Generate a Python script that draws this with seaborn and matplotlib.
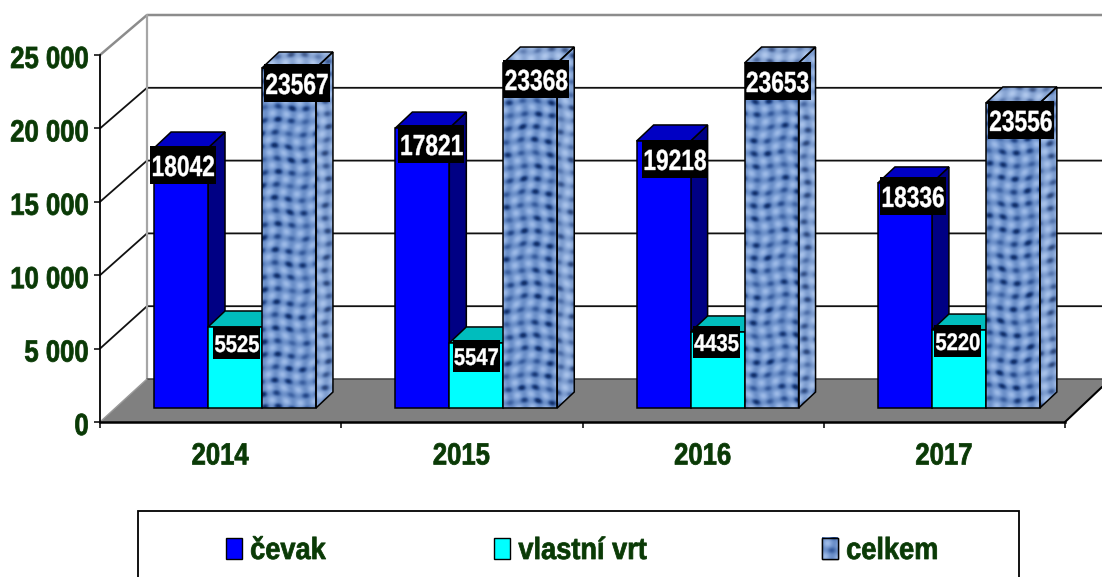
import numpy as np
import pandas as pd
import matplotlib
matplotlib.use('Agg')
import matplotlib.pyplot as plt
import seaborn as sns
from matplotlib.colors import LinearSegmentedColormap
from matplotlib.patches import Patch, Polygon, Rectangle
from matplotlib.patheffects import AbstractPathEffect
from matplotlib.transforms import Affine2D

# Data: bar heights as drawn, printed labels differ from them in the source chart
years = ['2014', '2015', '2016', '2017']
series_names = ['čevak', 'vlastní vrt', 'celkem']
cevak_bars = [17710, 19070, 18190, 15330]
vrt_bars = [5518, 4430, 5180, 5310]
celkem_bars = [23160, 23500, 23500, 20780]
cevak_labels = ['18042', '17821', '19218', '18336']
vrt_labels = ['5525', '5547', '4435', '5220']
celkem_labels = ['23567', '23368', '23653', '23556']
axis_values = [0, 5000, 10000, 15000, 20000, 25000]
axis_labels = ['0', '5 000', '10 000', '15 000', '20 000', '25 000']

# Layout in pixels of the 1102x577 picture
W, H = 1102, 577
PX_PER_UNIT = 73.4 / 5000
WALL_PX_PER_UNIT = 72.8 / 5000
PX_PER_CAT = 241.3
BAR_BASE = 408
GROUP0 = 235
FRONT_Y = 422
FRONT_LEFT, FRONT_RIGHT = 100, 1065
WALL_X, WALL_Y = 147, 379
DEPTH_X, DEPTH_Y = 17 / PX_PER_CAT, 16 / PX_PER_UNIT
GREEN = '#0a3a06'

label_shift = {
    'čevak': [(2, 17), (9, 16), (11, 18), (8, 13)],
    'vlastní vrt': [(2, 16), (0, 13), (-1, 10), (-1, 11)],
    'celkem': [(8, 15), (6, 16), (6, 18), (8, 17)],
}
label_box = {'čevak': (66, 38), 'vlastní vrt': (47, 32), 'celkem': (66, 38)}
label_size = {'čevak': 21, 'vlastní vrt': 17.3, 'celkem': 21}
label_squeeze = {'čevak': 0.78, 'vlastní vrt': 0.84, 'celkem': 0.78}


def xd(px):
    return (px - GROUP0) / PX_PER_CAT


def yd(px):
    return (BAR_BASE - px) / PX_PER_UNIT


# No narrow bold font is installed, so the glyphs get squeezed and thickened when drawn
class Squeeze(AbstractPathEffect):
    def __init__(self, sx, anchor='center', stroke=0.55):
        super().__init__()
        self.sx = sx
        self.anchor = anchor
        self.stroke = stroke

    def draw_path(self, renderer, gc, tpath, affine, rgbFace=None):
        ext = tpath.get_extents()
        ax0 = (ext.x0 + ext.x1) / 2 if self.anchor == 'center' else ext.x0
        pre = Affine2D().translate(-ax0, 0).scale(self.sx, 1).translate(ax0, 0)
        gc0 = renderer.new_gc()
        gc0.copy_properties(gc)
        gc0.set_linewidth(self.stroke)
        gc0.set_foreground(rgbFace)
        renderer.draw_path(gc0, tpath, pre + affine, rgbFace)
        gc0.restore()


weave_cmap = LinearSegmentedColormap.from_list(
    'weave', ['#12306a', '#34599b', '#6489c4', '#8eaee0', '#bcd3f5'])


# Woven look of the third series: rows of dark flecks on a mid blue
def weave(w, h, phase=0.0, lighten=0.0):
    yy, xx = np.mgrid[0:h, 0:w].astype(float)
    xx = xx + phase * 37
    yy = yy + phase * 53
    wx = xx + 2 * np.sin(yy / 9.3)
    wy = yy + 1.5 * np.sin(xx / 8.1)
    spots = ((1 + np.cos(2 * np.pi * wx / 14)) / 2) ** 1.2 * ((1 + np.cos(2 * np.pi * wy / 13)) / 2) ** 2
    amp = 0.7 + 0.3 * np.sin(xx / 9.7 + 1.7 * np.sin(yy / 8.3))
    light = ((1 + np.cos(2 * np.pi * (wx + 6) / 14)) / 2) * ((1 + np.cos(2 * np.pi * (wy + 6) / 13)) / 2)
    v = 0.55 - 0.62 * spots * amp + 0.28 * light
    rgb = weave_cmap(np.clip(v, 0, 1))[:, :, :3]
    return rgb + (1 - rgb) * lighten


sns.set_style('white')
plt.rcParams['font.family'] = ['Liberation Sans', 'DejaVu Sans']
plt.rcParams['font.weight'] = 'bold'

df = pd.DataFrame({
    'year': years * 3,
    'series': [n for n in series_names for _ in years],
    'value': cevak_bars + vrt_bars + celkem_bars,
})

fig = plt.figure(figsize=(W / 100, H / 100), dpi=100)
ax = fig.add_axes([FRONT_LEFT / W, (H - FRONT_Y) / H, (W - FRONT_LEFT) / W, FRONT_Y / H])
ax.patch.set_alpha(0)

sns.barplot(data=df, x='year', y='value', hue='series', hue_order=series_names,
            palette=['#0000ff', '#00ffff', '#7c9fd6'], width=0.671, gap=0,
            errorbar=None, legend=False, ax=ax, edgecolor='black', linewidth=1.1, saturation=1)
ax.set_xlabel('')
ax.set_ylabel('')
bars = list(ax.patches)

# Back wall, grid and floor
for v in axis_values[1:-1]:
    ax.plot([xd(FRONT_LEFT), xd(WALL_X), xd(W)],
            [yd(FRONT_Y - v * PX_PER_UNIT), yd(WALL_Y - v * WALL_PX_PER_UNIT), yd(WALL_Y - v * WALL_PX_PER_UNIT)],
            color='#111111', lw=1.3, zorder=1, clip_on=False)
top_px = WALL_Y - 25000 * WALL_PX_PER_UNIT
ax.plot([xd(FRONT_LEFT), xd(WALL_X), xd(W)],
        [yd(FRONT_Y - 25000 * PX_PER_UNIT), yd(top_px), yd(top_px)],
        color='#8c8c8c', lw=1.8, zorder=1, clip_on=False)
ax.plot([xd(WALL_X), xd(WALL_X)], [yd(WALL_Y), yd(top_px)], color='#a6a6a6', lw=1.6, zorder=1)

ax.add_patch(Polygon([(xd(FRONT_LEFT), yd(FRONT_Y)), (xd(WALL_X), yd(WALL_Y)), (xd(W), yd(WALL_Y)),
                      (xd(W), yd(387)), (xd(FRONT_RIGHT), yd(FRONT_Y))],
                     facecolor='#808080', edgecolor='none', zorder=1.5))
ax.plot([xd(WALL_X), xd(W)], [yd(WALL_Y), yd(WALL_Y)], color='#404040', lw=1.1, zorder=1.6)
ax.plot([xd(FRONT_LEFT), xd(WALL_X)], [yd(FRONT_Y), yd(WALL_Y)], color='#9a9a9a', lw=1.0, zorder=1.6)
ax.plot([xd(FRONT_RIGHT), xd(W)], [yd(FRONT_Y), yd(387)], color='black', lw=1.5, zorder=1.6)

# 3D faces on top of the bars seaborn drew
top_colors = ['#0000c4', '#00bdbd', None]
side_colors = ['#000084', '#008a8a', None]
n_years = len(years)
for s, name in enumerate(series_names):
    z = 3 + s
    for i in range(n_years):
        bar = bars[s * n_years + i]
        x0, w, h = bar.get_x(), bar.get_width(), bar.get_height()
        bar.set_zorder(z + 0.3)
        side = [(x0 + w, 0), (x0 + w + DEPTH_X, DEPTH_Y), (x0 + w + DEPTH_X, h + DEPTH_Y), (x0 + w, h)]
        top = [(x0, h), (x0 + DEPTH_X, h + DEPTH_Y), (x0 + w + DEPTH_X, h + DEPTH_Y), (x0 + w, h)]
        if name == 'celkem':
            ax.imshow(weave(54, int(h * PX_PER_UNIT), phase=i), extent=[x0, x0 + w, 0, h],
                      aspect='auto', zorder=z + 0.1, interpolation='bilinear')
            side_p = Polygon(side, facecolor='none', edgecolor='black', lw=1.1, zorder=z + 0.2)
            top_p = Polygon(top, facecolor='none', edgecolor='black', lw=1.1, zorder=z + 0.2)
            ax.add_patch(side_p)
            ax.add_patch(top_p)
            side_img = ax.imshow(weave(18, int(h * PX_PER_UNIT) + 16, phase=i + 5, lighten=0.12),
                                 extent=[x0 + w, x0 + w + DEPTH_X, 0, h + DEPTH_Y],
                                 aspect='auto', zorder=z + 0.1, interpolation='bilinear')
            side_img.set_clip_path(side_p)
            top_img = ax.imshow(weave(72, 17, phase=i + 9, lighten=0.2),
                                extent=[x0, x0 + w + DEPTH_X, h, h + DEPTH_Y],
                                aspect='auto', zorder=z + 0.1, interpolation='bilinear')
            top_img.set_clip_path(top_p)
            bar.set_facecolor('none')
        else:
            ax.add_patch(Polygon(side, facecolor=side_colors[s], edgecolor='black', lw=1.1, zorder=z))
            ax.add_patch(Polygon(top, facecolor=top_colors[s], edgecolor='black', lw=1.1, zorder=z))

# Value labels, black boxes with white text
all_labels = [cevak_labels, vrt_labels, celkem_labels]
all_bars = [cevak_bars, vrt_bars, celkem_bars]
for s, name in enumerate(series_names):
    bw, bh = label_box[name]
    for i, text in enumerate(all_labels[s]):
        cx_px = GROUP0 + (i + (s - 1) * 0.671 / 3) * PX_PER_CAT + label_shift[name][i][0]
        cy_px = BAR_BASE - all_bars[s][i] * PX_PER_UNIT + label_shift[name][i][1]
        ax.add_patch(Rectangle((xd(cx_px - bw / 2), yd(cy_px + bh / 2)), bw / PX_PER_CAT, bh / PX_PER_UNIT,
                               facecolor='black', edgecolor='none', zorder=8))
        t = ax.text(xd(cx_px), yd(cy_px), text, color='white', fontsize=label_size[name], fontweight='bold',
                    ha='center', va='center_baseline', zorder=9)
        t.set_path_effects([Squeeze(label_squeeze[name], stroke=0.3)])

# Axes
ax.set_xlim(xd(FRONT_LEFT), xd(W))
ax.set_ylim(yd(FRONT_Y), yd(0))
sns.despine(ax=ax, top=True, right=True)
ax.spines['left'].set_color('black')
ax.spines['left'].set_linewidth(1.3)
ax.spines['left'].set_bounds(yd(FRONT_Y), yd(FRONT_Y - 25000 * PX_PER_UNIT))
ax.spines['bottom'].set_color('black')
ax.spines['bottom'].set_linewidth(1.8)
ax.spines['bottom'].set_bounds(xd(FRONT_LEFT), xd(FRONT_RIGHT))

# Value axis labels are placed from their left edge so the squeezed text stays inside the picture
ax.set_yticks([yd(FRONT_Y - v * PX_PER_UNIT) for v in axis_values], labels=[])
ax.tick_params(axis='y', left=True, length=4, width=1.1, color='black')
renderer = fig.canvas.get_renderer()
for v, text in zip(axis_values, axis_labels):
    t = ax.text(xd(10), yd(FRONT_Y - v * PX_PER_UNIT + 1.5), text, color=GREEN, fontsize=22, fontweight='bold',
                ha='left', va='center_baseline', clip_on=False)
    t.set_path_effects([Squeeze(0.84, 'left')])
    t.set_x(xd(88.5 - t.get_window_extent(renderer).width * 0.84))

ax.set_xticks([xd(220 + i * PX_PER_CAT) for i in range(n_years)], labels=years)
ax.tick_params(axis='x', which='major', bottom=False, length=0, labelcolor=GREEN, labelsize=22, pad=14)
ax.set_xticks([xd(FRONT_LEFT + i * PX_PER_CAT) for i in range(n_years + 1)], minor=True)
ax.tick_params(axis='x', which='minor', bottom=True, length=4, width=1.1, color='black')
for lab in ax.get_xticklabels():
    lab.set_fontweight('bold')
    lab.set_path_effects([Squeeze(0.84)])

# Legend, frame runs past the bottom of the picture
fig.add_artist(Rectangle((138 / W, -0.02), 881 / W, (H - 511) / H + 0.02, transform=fig.transFigure,
                         facecolor='white', edgecolor='black', lw=1.3, zorder=0))
FS_PX = 22 * 100 / 72
handles = [Patch(facecolor=c, edgecolor='black', lw=1.0) for c in ['#0000ff', '#00ffff', '#7c9fd6']]
leg = ax.legend(handles, series_names, ncol=3, frameon=False, fontsize=22,
                loc='center left', bbox_to_anchor=(226 / W, (H - 551) / H), bbox_transform=fig.transFigure,
                borderpad=0, borderaxespad=0, handlelength=16 / FS_PX, handleheight=21 / FS_PX,
                handletextpad=8 / FS_PX, columnspacing=159.5 / FS_PX, labelspacing=0)
for t in leg.get_texts():
    t.set_color(GREEN)
    t.set_fontweight('bold')
    t.set_path_effects([Squeeze(0.89, 'left')])

fig.canvas.draw()
box = leg.legend_handles[2].get_window_extent()
(lx0, ly0), (lx1, ly1) = ax.transData.inverted().transform([(box.x0, box.y0), (box.x1, box.y1)])
ax.imshow(weave(16, 21, phase=2), extent=[lx0, lx1, ly0, ly1], aspect='auto', zorder=6,
          interpolation='bilinear', clip_on=False)
ax.add_patch(Rectangle((lx0, ly0), lx1 - lx0, ly1 - ly0, facecolor='none', edgecolor='black', lw=1.0,
                       zorder=6.1, clip_on=False))
ax.set_xlim(xd(FRONT_LEFT), xd(W))
ax.set_ylim(yd(FRONT_Y), yd(0))

fig.savefig('out.png', dpi=100)
